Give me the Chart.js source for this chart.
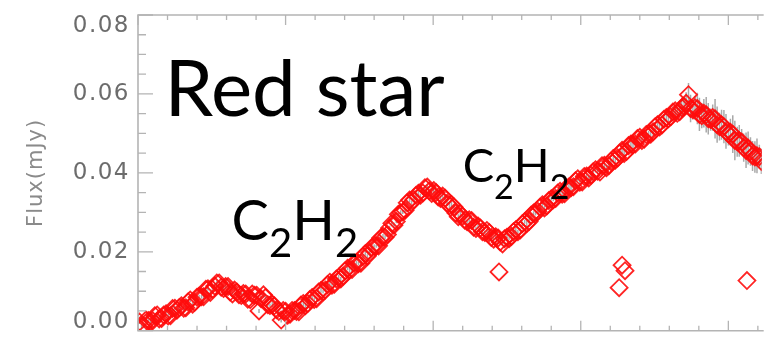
<!DOCTYPE html>
<html>
<head>
<meta charset="utf-8">
<script src="https://cdn.jsdelivr.net/npm/chart.js@4.4.1/dist/chart.umd.min.js"></script>
<style>
  html, body { margin: 0; padding: 0; background: #ffffff; overflow: hidden; }
  #wrap { position: relative; width: 772px; height: 341px; }
</style>
</head>
<body>
<div id="wrap"><canvas id="spectrum" width="772" height="341"></canvas></div>
<script>
// Spectrum samples, two interleaved nods: wavelength (um), flux (mJy), 1-sigma error
const wavelengthA = [
  5.05, 5.20, 5.35, 5.50, 5.65, 5.80, 5.95, 6.10, 6.25, 6.40,
  6.55, 6.70, 6.85, 7.00, 7.15, 7.30, 7.45, 7.60, 7.75, 7.90,
  8.05, 8.20, 8.35, 8.50, 8.65, 8.80, 8.95, 9.10, 9.25, 9.40,
  9.55, 9.70, 9.85, 10.00, 10.15, 10.30, 10.45, 10.60, 10.75, 10.90,
  11.05, 11.20, 11.35, 11.50, 11.65, 11.80, 11.95, 12.10, 12.25, 12.40,
  12.55, 12.70, 12.85, 13.00, 13.15, 13.30, 13.45, 13.60, 13.75, 13.90,
  14.05, 14.20, 14.35, 14.50, 14.65, 14.80, 14.95, 15.10, 15.25, 15.40,
  15.55, 15.70, 15.85, 16.00, 16.15, 16.30, 16.45, 16.60, 16.75, 16.90,
  17.05, 17.20, 17.35, 17.50, 17.65, 17.80, 17.95, 18.10, 18.25, 18.40,
  18.55, 18.70, 18.85, 19.00, 19.15, 19.30, 19.45, 19.60, 19.75, 19.90,
  20.05, 20.20, 20.35, 20.50, 20.65, 20.80, 20.95, 21.10, 21.25, 21.40,
  21.55, 21.70, 21.85, 22.00, 22.15, 22.30, 22.45, 22.60, 22.75, 22.90,
  23.05, 23.20, 23.35, 23.50, 23.65, 23.80, 23.95, 24.10, 24.25, 24.40,
  24.55, 24.70, 24.85, 25.00, 25.15, 25.30, 25.45, 25.60, 25.75, 25.90,
  26.05
];
const fluxA = [
  0.0022, 0.0012, 0.0026, 0.0025, 0.0040, 0.0031, 0.0043, 0.0038, 0.0057, 0.0059,
  0.0057, 0.0073, 0.0067, 0.0085, 0.0086, 0.0105, 0.0097, 0.0113, 0.0121, 0.0107,
  0.0112, 0.0093, 0.0098, 0.0089, 0.0093, 0.0079, 0.0090, 0.0050, 0.0091, 0.0066,
  0.0067, 0.0053, 0.0027, 0.0049, 0.0042, 0.0051, 0.0048, 0.0069, 0.0069, 0.0084,
  0.0081, 0.0102, 0.0103, 0.0123, 0.0118, 0.0135, 0.0138, 0.0158, 0.0155, 0.0173,
  0.0171, 0.0195, 0.0198, 0.0215, 0.0215, 0.0239, 0.0244, 0.0272, 0.0277, 0.0299,
  0.0305, 0.0331, 0.0332, 0.0348, 0.0349, 0.0364, 0.0348, 0.0350, 0.0335, 0.0336,
  0.0317, 0.0314, 0.0289, 0.0290, 0.0276, 0.0279, 0.0259, 0.0260, 0.0249, 0.0249,
  0.0232, 0.0235, 0.0220, 0.0237, 0.0239, 0.0256, 0.0255, 0.0276, 0.0277, 0.0298,
  0.0302, 0.0319, 0.0316, 0.0334, 0.0335, 0.0353, 0.0347, 0.0364, 0.0365, 0.0385,
  0.0377, 0.0392, 0.0394, 0.0408, 0.0402, 0.0419, 0.0418, 0.0436, 0.0438, 0.0457,
  0.0454, 0.0473, 0.0473, 0.0490, 0.0485, 0.0499, 0.0504, 0.0522, 0.0521, 0.0540,
  0.0542, 0.0557, 0.0555, 0.0568, 0.0598, 0.0560, 0.0563, 0.0545, 0.0547, 0.0535,
  0.0537, 0.0517, 0.0517, 0.0499, 0.0498, 0.0479, 0.0478, 0.0457, 0.0454, 0.0440,
  0.0441
];
const fluxErrA = [
  0.0005, 0.0006, 0.0004, 0.0007, 0.0005, 0.0006, 0.0005, 0.0004, 0.0006, 0.0005,
  0.0007, 0.0005, 0.0006, 0.0004, 0.0005, 0.0006, 0.0005, 0.0007, 0.0005, 0.0006,
  0.0004, 0.0006, 0.0005, 0.0007, 0.0005, 0.0006, 0.0004, 0.0005, 0.0006, 0.0005,
  0.0007, 0.0005, 0.0006, 0.0004, 0.0005, 0.0006, 0.0005, 0.0007, 0.0005, 0.0006,
  0.0004, 0.0006, 0.0005, 0.0007, 0.0005, 0.0006, 0.0004, 0.0005, 0.0006, 0.0005,
  0.0007, 0.0005, 0.0006, 0.0004, 0.0005, 0.0006, 0.0005, 0.0007, 0.0005, 0.0006,
  0.0004, 0.0006, 0.0005, 0.0007, 0.0005, 0.0006, 0.0004, 0.0005, 0.0006, 0.0005,
  0.0007, 0.0005, 0.0006, 0.0004, 0.0005, 0.0006, 0.0005, 0.0007, 0.0005, 0.0006,
  0.0004, 0.0006, 0.0005, 0.0007, 0.0005, 0.0006, 0.0004, 0.0005, 0.0006, 0.0005,
  0.0007, 0.0005, 0.0006, 0.0004, 0.0005, 0.0006, 0.0005, 0.0007, 0.0005, 0.0006,
  0.0005, 0.0006, 0.0005, 0.0007, 0.0006, 0.0006, 0.0005, 0.0007, 0.0006, 0.0008,
  0.0006, 0.0007, 0.0008, 0.0007, 0.0009, 0.0008, 0.0010, 0.0009, 0.0011, 0.0012,
  0.0010, 0.0013, 0.0015, 0.0022, 0.0030, 0.0025, 0.0040, 0.0032, 0.0045, 0.0028,
  0.0050, 0.0035, 0.0042, 0.0030, 0.0048, 0.0038, 0.0033, 0.0045, 0.0036, 0.0040,
  0.0030
];
const wavelengthB = [
  5.12, 5.27, 5.42, 5.57, 5.72, 5.87, 6.02, 6.17, 6.32, 6.47,
  6.62, 6.77, 6.92, 7.07, 7.22, 7.37, 7.52, 7.67, 7.82, 7.97,
  8.12, 8.27, 8.42, 8.57, 8.72, 8.87, 9.02, 9.17, 9.32, 9.47,
  9.62, 9.77, 9.92, 10.07, 10.22, 10.37, 10.52, 10.67, 10.82, 10.97,
  11.12, 11.27, 11.42, 11.57, 11.72, 11.87, 12.02, 12.17, 12.32, 12.47,
  12.62, 12.77, 12.92, 13.07, 13.22, 13.37, 13.52, 13.67, 13.82, 13.97,
  14.12, 14.27, 14.42, 14.57, 14.72, 14.87, 15.02, 15.17, 15.32, 15.47,
  15.62, 15.77, 15.92, 16.07, 16.22, 16.37, 16.52, 16.67, 16.82, 16.97,
  17.12, 17.27, 17.42, 17.57, 17.72, 17.87, 18.02, 18.17, 18.32, 18.47,
  18.62, 18.77, 18.92, 19.07, 19.22, 19.37, 19.52, 19.67, 19.82, 19.97,
  20.12, 20.27, 20.42, 20.57, 20.72, 20.87, 21.02, 21.17, 21.32, 21.47,
  21.62, 21.77, 21.92, 22.07, 22.22, 22.37, 22.52, 22.67, 22.82, 22.97,
  23.12, 23.27, 23.42, 23.57, 23.72, 23.87, 24.02, 24.17, 24.32, 24.47,
  24.62, 24.77, 24.92, 25.07, 25.22, 25.37, 25.52, 25.67, 25.82, 25.97,
  26.12
];
const fluxB = [
  0.0011, 0.0027, 0.0023, 0.0038, 0.0030, 0.0040, 0.0037, 0.0056, 0.0052, 0.0063,
  0.0058, 0.0078, 0.0072, 0.0087, 0.0086, 0.0106, 0.0105, 0.0121, 0.0110, 0.0112,
  0.0098, 0.0103, 0.0091, 0.0094, 0.0080, 0.0093, 0.0090, 0.0081, 0.0084, 0.0064,
  0.0063, 0.0049, 0.0051, 0.0039, 0.0051, 0.0049, 0.0065, 0.0063, 0.0079, 0.0079,
  0.0098, 0.0099, 0.0117, 0.0115, 0.0131, 0.0131, 0.0152, 0.0154, 0.0171, 0.0170,
  0.0188, 0.0189, 0.0211, 0.0214, 0.0235, 0.0237, 0.0260, 0.0267, 0.0295, 0.0301,
  0.0324, 0.0325, 0.0343, 0.0343, 0.0362, 0.0354, 0.0355, 0.0339, 0.0341, 0.0323,
  0.0320, 0.0298, 0.0296, 0.0280, 0.0281, 0.0262, 0.0265, 0.0251, 0.0254, 0.0236,
  0.0238, 0.0225, 0.0233, 0.0233, 0.0251, 0.0251, 0.0271, 0.0272, 0.0293, 0.0297,
  0.0313, 0.0311, 0.0330, 0.0332, 0.0349, 0.0346, 0.0362, 0.0362, 0.0380, 0.0376,
  0.0391, 0.0387, 0.0403, 0.0404, 0.0418, 0.0413, 0.0429, 0.0432, 0.0450, 0.0449,
  0.0469, 0.0471, 0.0487, 0.0482, 0.0497, 0.0498, 0.0517, 0.0516, 0.0536, 0.0537,
  0.0554, 0.0551, 0.0565, 0.0576, 0.0563, 0.0565, 0.0548, 0.0551, 0.0537, 0.0540,
  0.0522, 0.0522, 0.0505, 0.0503, 0.0482, 0.0481, 0.0464, 0.0463, 0.0443, 0.0443,
  0.0429
];
const fluxErrB = [
  0.0006, 0.0005, 0.0007, 0.0004, 0.0006, 0.0005, 0.0006, 0.0007, 0.0004, 0.0005,
  0.0006, 0.0005, 0.0007, 0.0004, 0.0006, 0.0005, 0.0006, 0.0007, 0.0004, 0.0005,
  0.0006, 0.0005, 0.0007, 0.0004, 0.0006, 0.0005, 0.0006, 0.0007, 0.0004, 0.0005,
  0.0006, 0.0005, 0.0007, 0.0004, 0.0006, 0.0005, 0.0006, 0.0007, 0.0004, 0.0005,
  0.0006, 0.0005, 0.0007, 0.0004, 0.0006, 0.0005, 0.0006, 0.0007, 0.0004, 0.0005,
  0.0006, 0.0005, 0.0007, 0.0004, 0.0006, 0.0005, 0.0006, 0.0007, 0.0004, 0.0005,
  0.0006, 0.0005, 0.0007, 0.0004, 0.0006, 0.0005, 0.0006, 0.0007, 0.0004, 0.0005,
  0.0006, 0.0005, 0.0007, 0.0004, 0.0006, 0.0005, 0.0006, 0.0007, 0.0004, 0.0005,
  0.0006, 0.0005, 0.0007, 0.0004, 0.0006, 0.0005, 0.0006, 0.0007, 0.0004, 0.0005,
  0.0006, 0.0005, 0.0007, 0.0004, 0.0006, 0.0005, 0.0006, 0.0007, 0.0004, 0.0005,
  0.0006, 0.0005, 0.0007, 0.0006, 0.0008, 0.0006, 0.0007, 0.0008, 0.0007, 0.0009,
  0.0008, 0.0009, 0.0010, 0.0009, 0.0011, 0.0010, 0.0012, 0.0011, 0.0013, 0.0012,
  0.0014, 0.0016, 0.0020, 0.0028, 0.0035, 0.0030, 0.0042, 0.0036, 0.0040, 0.0033,
  0.0046, 0.0038, 0.0044, 0.0034, 0.0050, 0.0040, 0.0036, 0.0042, 0.0038, 0.0044,
  0.0032
];
// Isolated low samples below the main continuum
const outlierWavelength = [17.23, 21.30, 21.40, 21.50, 25.63];
const outlierFlux = [0.0149, 0.0109, 0.0166, 0.0152, 0.0127];

// Axes
const xRange = [5, 26.13];
const xMajorStep = 5;
const xMinorStep = 1;
const yRange = [0, 0.08];
const yTickValues = [0, 0.02, 0.04, 0.06, 0.08];
const yTickLabels = ['0.00', '0.02', '0.04', '0.06', '0.08'];
const yMinorStep = 0.005;
const yAxisTitle = 'Flux(mJy)';

// Text written on the plot
const starLabel = 'Red star';
const moleculeLabel = { main: ['C', 'H'], sub: '2' };

// Placement of the text on the plot (data coordinates) and its sizes
const annotationLayout = {
  star: { x: 5.9, y: 0.0544, size: 78 },
  bands: [
    { x: 8.17, y: 0.0229, size: 56, subSize: 40, subDrop: 17 },
    { x: 16.0, y: 0.0378, size: 47, subSize: 34, subDrop: 17 }
  ]
};

const AXIS_COLOR = '#b4b4b4';
const LABEL_COLOR = '#6c6c6c';
const TITLE_COLOR = '#8a8a8a';

const nods = [
  { w: wavelengthA, f: fluxA, e: fluxErrA },
  { w: wavelengthB, f: fluxB, e: fluxErrB }
];
const toPoints = (ws, fs) => ws.map((w, i) => ({ x: w, y: fs[i] }));

function drawMolecule(ctx, x, y, cfg) {
  const big = `400 ${cfg.size}px Lato`;
  const small = `400 ${cfg.subSize}px Lato`;
  let cx = x;
  moleculeLabel.main.forEach((ch) => {
    ctx.font = big;
    ctx.fillText(ch, cx, y);
    cx += ctx.measureText(ch).width;
    ctx.font = small;
    ctx.fillText(moleculeLabel.sub, cx, y + cfg.subDrop);
    cx += ctx.measureText(moleculeLabel.sub).width;
  });
}

const idlFrame = {
  id: 'idlFrame',
  beforeDatasetsDraw(chart) {
    // grey error bars beneath the diamonds
    const { ctx, chartArea: a, scales: { x, y } } = chart;
    ctx.save();
    ctx.beginPath();
    ctx.rect(a.left, a.top, a.right - a.left, a.bottom - a.top);
    ctx.clip();
    ctx.strokeStyle = '#a9a9a9';
    ctx.lineWidth = 1.5;
    ctx.beginPath();
    nods.forEach((n) => {
      n.w.forEach((w, i) => {
        const px = x.getPixelForValue(w);
        ctx.moveTo(px, y.getPixelForValue(n.f[i] - n.e[i]));
        ctx.lineTo(px, y.getPixelForValue(n.f[i] + n.e[i]));
      });
    });
    ctx.stroke();
    ctx.restore();
  },
  afterDraw(chart) {
    const { ctx, chartArea: a, scales: { x, y } } = chart;
    ctx.save();
    ctx.letterSpacing = '0px';

    // frame: left, top and bottom axes
    ctx.strokeStyle = AXIS_COLOR;
    ctx.lineWidth = 1.6;
    ctx.beginPath();
    ctx.moveTo(a.right + 2, a.top);
    ctx.lineTo(a.left, a.top);
    ctx.lineTo(a.left, a.bottom);
    ctx.lineTo(a.right + 2, a.bottom);
    ctx.stroke();

    // inward tick marks
    ctx.lineWidth = 1.3;
    ctx.beginPath();
    const xk0 = Math.ceil(x.min / xMinorStep - 1e-9);
    const xk1 = Math.floor(x.max / xMinorStep + 1e-9);
    const perMajor = Math.round(xMajorStep / xMinorStep);
    for (let k = xk0; k <= xk1; k++) {
      const px = x.getPixelForValue(k * xMinorStep);
      const len = k % perMajor === 0 ? 10 : 5;
      ctx.moveTo(px, a.top); ctx.lineTo(px, a.top + len);
      ctx.moveTo(px, a.bottom); ctx.lineTo(px, a.bottom - len);
    }
    const yk1 = Math.round((y.max - y.min) / yMinorStep);
    const yPerMajor = Math.round((yTickValues[1] - yTickValues[0]) / yMinorStep);
    for (let k = 0; k <= yk1; k++) {
      const py = y.getPixelForValue(y.min + k * yMinorStep);
      const len = k % yPerMajor === 0 ? 15 : 8;
      ctx.moveTo(a.left, py); ctx.lineTo(a.left + len, py);
    }
    ctx.stroke();

    // tick labels
    ctx.fillStyle = LABEL_COLOR;
    ctx.font = '23px "DejaVu Sans"';
    ctx.letterSpacing = '1.5px';
    ctx.textAlign = 'right';
    ctx.textBaseline = 'middle';
    yTickValues.forEach((v, i) => {
      let py = y.getPixelForValue(v);
      py = Math.min(Math.max(py, a.top + 11), a.bottom - 9);
      ctx.fillText(yTickLabels[i], a.left - 8, py);
    });

    // axis title
    ctx.save();
    ctx.fillStyle = TITLE_COLOR;
    ctx.font = '21px "DejaVu Sans"';
    ctx.letterSpacing = '1px';
    ctx.textAlign = 'center';
    ctx.translate(37, (a.top + a.bottom) / 2);
    ctx.rotate(-Math.PI / 2);
    ctx.fillText(yAxisTitle, 0, 0);
    ctx.restore();

    // annotations
    ctx.letterSpacing = '0px';
    ctx.fillStyle = '#000000';
    ctx.textAlign = 'left';
    ctx.textBaseline = 'alphabetic';
    const s = annotationLayout.star;
    ctx.font = `400 ${s.size}px Lato`;
    ctx.fillText(starLabel, x.getPixelForValue(s.x), y.getPixelForValue(s.y));
    annotationLayout.bands.forEach((b) => {
      drawMolecule(ctx, x.getPixelForValue(b.x), y.getPixelForValue(b.y), b);
    });
    ctx.restore();
  }
};

const diamondStyle = {
  pointStyle: 'rectRot',
  pointRadius: 8.5,
  pointHoverRadius: 8.5,
  borderColor: 'rgba(255, 12, 12, 0.9)',
  borderWidth: 1.8,
  backgroundColor: 'rgba(255, 255, 255, 0)',
  showLine: false
};

new Chart(document.getElementById('spectrum'), {
  type: 'scatter',
  data: {
    datasets: [
      Object.assign({ label: 'nod A', data: toPoints(wavelengthA, fluxA) }, diamondStyle),
      Object.assign({ label: 'nod B', data: toPoints(wavelengthB, fluxB) }, diamondStyle),
      Object.assign({ label: 'outliers', data: toPoints(outlierWavelength, outlierFlux) }, diamondStyle)
    ]
  },
  options: {
    responsive: false,
    animation: false,
    devicePixelRatio: 1,
    layout: { padding: { left: 138, top: 15, right: 0, bottom: 4 } },
    scales: {
      x: { type: 'linear', min: xRange[0], max: xRange[1], display: false },
      y: { type: 'linear', min: yRange[0], max: yRange[1], display: false }
    },
    plugins: { legend: { display: false }, tooltip: { enabled: false } }
  },
  plugins: [idlFrame]
});
</script>
</body>
</html>
